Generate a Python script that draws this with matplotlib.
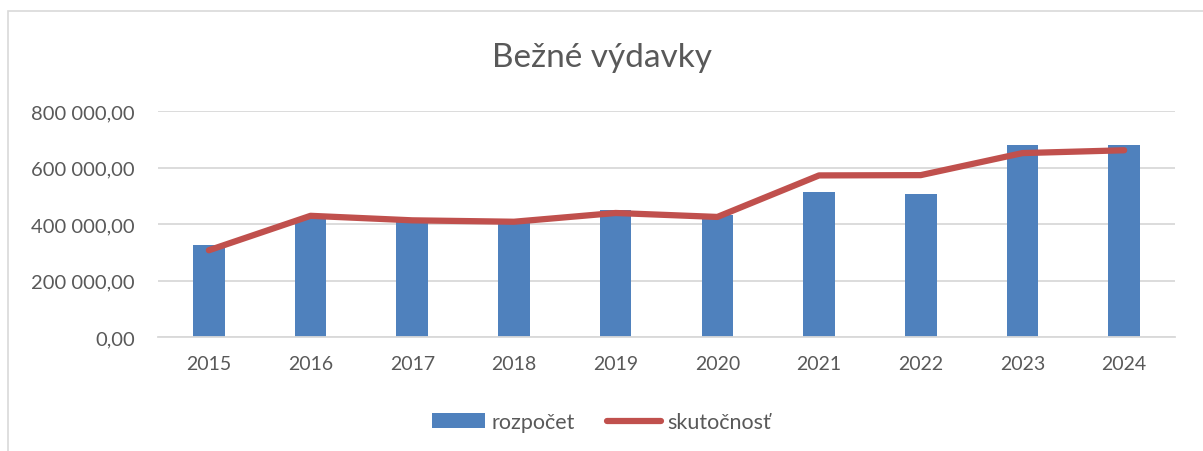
import matplotlib
matplotlib.use("Agg")
import matplotlib.pyplot as plt
from matplotlib.ticker import FuncFormatter, MultipleLocator
from matplotlib.patches import Rectangle

years = ["2015", "2016", "2017", "2018", "2019", "2020", "2021", "2022", "2023", "2024"]
rozpocet = [327000, 422000, 408000, 402000, 448000, 433000, 515000, 507000, 678000, 679000]
skutocnost = [307000, 429000, 413000, 408000, 439000, 425000, 572000, 573000, 651000, 661000]

plt.rcParams['font.family'] = ['Lato', 'DejaVu Sans']
txt = '#595959'
grid = '#d9d9d9'

fig = plt.figure(figsize=(12.03, 4.52), dpi=100)
fig.patches.append(Rectangle((8/1203, -0.1), 1.2, 1 - 12/452 + 0.1, transform=fig.transFigure,
                             fill=False, edgecolor=grid, linewidth=1.2))
ax = fig.add_axes([158/1203, 1 - 338/452, (1175-158)/1203, (338-112)/452])

x = range(len(years))
bars = ax.bar(x, rozpocet, width=0.31, color='#4f81bd', label='rozpočet', zorder=2)
line, = ax.plot(x, skutocnost, color='#c0504d', linewidth=4.5, solid_capstyle='round', label='skutočnosť', zorder=3)

ax.set_xlim(-0.5, len(years) - 0.5)
ax.set_ylim(0, 800000)
ax.yaxis.set_major_locator(MultipleLocator(200000))
ax.yaxis.set_major_formatter(FuncFormatter(lambda v, p: f"{int(v):,}".replace(",", " ") + ",00"))
ax.set_xticks(list(x))
ax.set_xticklabels(years)
ax.grid(axis='y', color=grid, linewidth=1.3, zorder=0)
ax.set_axisbelow(True)
for s in ['top', 'right', 'left']:
    ax.spines[s].set_visible(False)
ax.spines['bottom'].set_color(grid)
ax.spines['bottom'].set_linewidth(1.3)
ax.tick_params(axis='both', length=0, labelsize=14, labelcolor=txt)
ax.tick_params(axis='y', labelsize=14.5, pad=16.5)
ax.tick_params(axis='x', pad=13)

fig.text(0.5, 1 - 58/452, "Bežné výdavky", ha='center', va='center', fontsize=24, color=txt)
fig.legend(handles=[bars, line], loc='center', bbox_to_anchor=(0.5, 1 - 423/452), ncol=2, frameon=False,
           fontsize=15.5, labelcolor=txt, handlelength=2.5, handleheight=0.65, columnspacing=1.5,
           handletextpad=0.3)

fig.savefig("out.png", dpi=100)
